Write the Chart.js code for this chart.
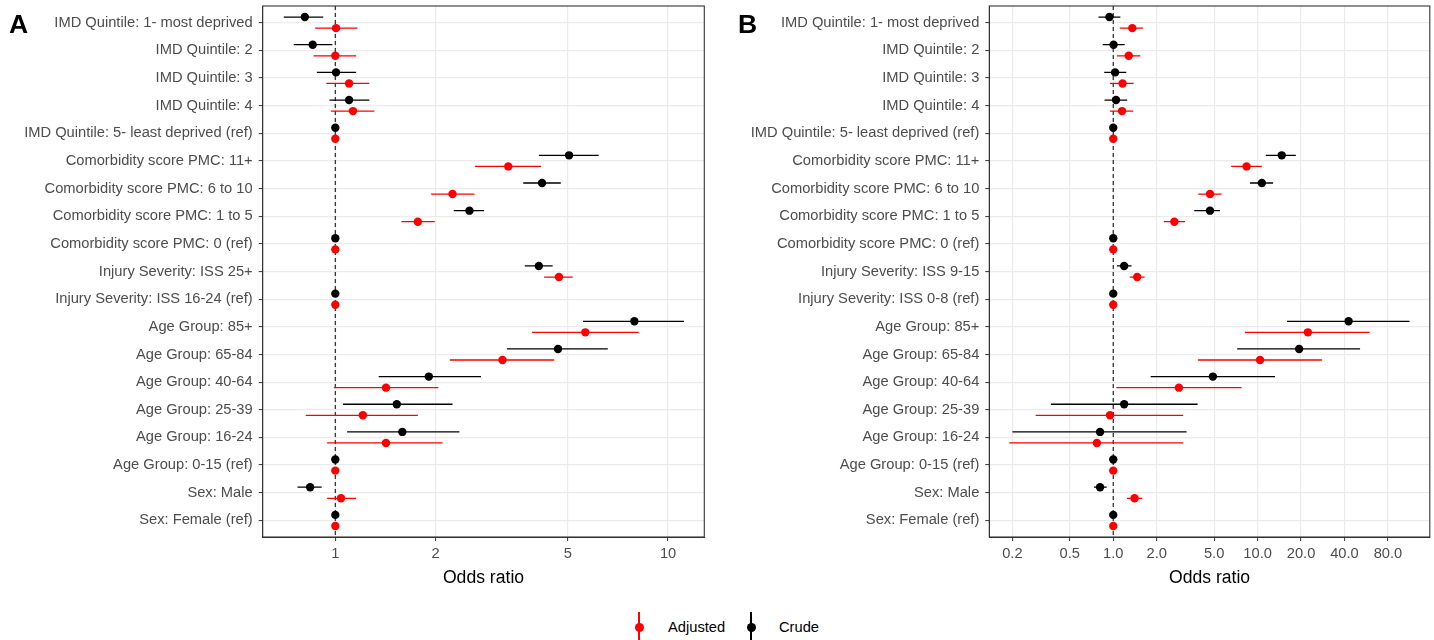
<!DOCTYPE html>
<html>
<head>
<meta charset="utf-8">
<title>Odds ratios</title>
<script src="https://cdn.jsdelivr.net/npm/chart.js@4.4.1/dist/chart.umd.min.js"></script>
<style>
  body { margin: 0; background: #fff; }
  #wrap { position: relative; width: 1434px; height: 640px; background: #fff; font-family: 'Liberation Sans', Arial, sans-serif; overflow: hidden; }
  canvas { position: absolute; top: 0; }
  #chartA { left: 0; }
  #chartB { left: 712px; }
  .tag { position: absolute; top: 10.6px; font-weight: bold; font-size: 26.5px; line-height: 1; color: #000; }
  .key { position: absolute; top: 612px; width: 10px; height: 29px; }
  .key::before { content: ''; position: absolute; left: 4.4px; top: 0; width: 1.3px; height: 29px; background: currentColor; }
  .key::after { content: ''; position: absolute; left: 0.5px; top: 11px; width: 9px; height: 9px; border-radius: 50%; background: currentColor; }
  .keytext { position: absolute; top: 619px; font-size: 14.7px; line-height: 17.6px; color: #000; }
</style>
</head>
<body>
<div id="wrap">
  <canvas id="chartA" width="712" height="600"></canvas>
  <canvas id="chartB" width="722" height="600"></canvas>
  <div class="tag" style="left:9px">A</div>
  <div class="tag" style="left:738px">B</div>
  <div class="key" style="left:634px; color:#ff0000"></div>
  <div class="keytext" style="left:668px">Adjusted</div>
  <div class="key" style="left:746px; color:#000"></div>
  <div class="keytext" style="left:779px">Crude</div>
</div>
<script>
// row labels, top to bottom
const labelsA = [
  'IMD Quintile: 1- most deprived', 'IMD Quintile: 2', 'IMD Quintile: 3', 'IMD Quintile: 4',
  'IMD Quintile: 5- least deprived (ref)', 'Comorbidity score PMC: 11+', 'Comorbidity score PMC: 6 to 10',
  'Comorbidity score PMC: 1 to 5', 'Comorbidity score PMC: 0 (ref)', 'Injury Severity: ISS 25+',
  'Injury Severity: ISS 16-24 (ref)', 'Age Group: 85+', 'Age Group: 65-84', 'Age Group: 40-64',
  'Age Group: 25-39', 'Age Group: 16-24', 'Age Group: 0-15 (ref)', 'Sex: Male', 'Sex: Female (ref)'
];
const labelsB = [
  'IMD Quintile: 1- most deprived', 'IMD Quintile: 2', 'IMD Quintile: 3', 'IMD Quintile: 4',
  'IMD Quintile: 5- least deprived (ref)', 'Comorbidity score PMC: 11+', 'Comorbidity score PMC: 6 to 10',
  'Comorbidity score PMC: 1 to 5', 'Comorbidity score PMC: 0 (ref)', 'Injury Severity: ISS 9-15',
  'Injury Severity: ISS 0-8 (ref)', 'Age Group: 85+', 'Age Group: 65-84', 'Age Group: 40-64',
  'Age Group: 25-39', 'Age Group: 16-24', 'Age Group: 0-15 (ref)', 'Sex: Male', 'Sex: Female (ref)'
];

// panel A
const crudeA   = [0.81, 0.855, 1.005, 1.10, 1, 5.04, 4.18, 2.53, 1, 4.09, 1, 7.92, 4.67, 1.91, 1.53, 1.59, 1, 0.84, 1];
const crudeLoA = [0.70, 0.75, 0.88, 0.96, 1, 4.09, 3.67, 2.27, 1, 3.71, 1, 5.55, 3.28, 1.35, 1.055, 1.085, 1, 0.77, 1];
const crudeHiA = [0.92, 0.98, 1.155, 1.265, 1, 6.19, 4.76, 2.80, 1, 4.50, 1, 11.17, 6.59, 2.74, 2.25, 2.36, 1, 0.91, 1];
const adjA     = [1.005, 1.0, 1.10, 1.13, 1, 3.31, 2.25, 1.77, 1, 4.70, 1, 5.64, 3.18, 1.42, 1.21, 1.42, 1, 1.04, 1];
const adjLoA   = [0.87, 0.86, 0.94, 0.97, 1, 2.63, 1.94, 1.58, 1, 4.24, 1, 3.90, 2.21, 0.99, 0.815, 0.945, 1, 0.945, 1];
const adjHiA   = [1.165, 1.155, 1.265, 1.31, 1, 4.15, 2.62, 1.99, 1, 5.17, 1, 8.16, 4.55, 2.04, 1.77, 2.10, 1, 1.155, 1];

// panel B
const crudeB   = [0.94, 1.005, 1.03, 1.045, 1, 14.7, 10.7, 4.68, 1, 1.19, 1, 42.7, 19.4, 4.90, 1.19, 0.81, 1, 0.81, 1];
const crudeLoB = [0.79, 0.845, 0.865, 0.87, 1, 11.4, 8.85, 3.64, 1, 1.06, 1, 16.0, 7.22, 1.815, 0.37, 0.20, 1, 0.735, 1];
const crudeHiB = [1.12, 1.20, 1.23, 1.25, 1, 18.4, 12.8, 5.48, 1, 1.34, 1, 113, 51.3, 13.2, 3.84, 3.22, 1, 0.90, 1];
const adjB     = [1.355, 1.28, 1.16, 1.15, 1, 8.39, 4.68, 2.65, 1, 1.465, 1, 22.3, 10.4, 2.85, 0.95, 0.77, 1, 1.405, 1];
const adjLoB   = [1.11, 1.06, 0.95, 0.95, 1, 6.56, 3.88, 2.24, 1, 1.30, 1, 8.17, 3.86, 1.05, 0.29, 0.19, 1, 1.245, 1];
const adjHiB   = [1.61, 1.54, 1.385, 1.375, 1, 10.7, 5.63, 3.14, 1, 1.65, 1, 59.7, 27.9, 7.75, 3.05, 3.05, 1, 1.59, 1];

// x axes
const ticksA = [1, 2, 5, 10];
const tickTextA = ['1', '2', '5', '10'];
const rangeA = [0.605, 12.85];
const ticksB = [0.2, 0.5, 1, 2, 5, 10, 20, 40, 80];
const tickTextB = ['0.2', '0.5', '1.0', '2.0', '5.0', '10.0', '20.0', '40.0', '80.0'];
const rangeB = [0.1384, 156];

Chart.defaults.font.family = "'Liberation Sans', Arial, sans-serif";

const DODGE = 0.2;

function pointData(vals, shift) {
    return vals.map((v, i) => ({x: v, y: i + shift}));
}

// segments lo..hi separated by gaps
function barData(lo, hi, shift) {
    const out = [];
    lo.forEach((v, i) => {
        out.push({x: v, y: i + shift}, {x: hi[i], y: i + shift}, {x: null, y: null});
    });
    return out;
}

const panelBorder = {
    id: 'panelBorder',
    afterDraw(chart) {
        const a = chart.chartArea;
        const c = chart.ctx;
        c.save();
        c.strokeStyle = '#333';
        c.lineWidth = 1.1;
        c.strokeRect(a.left, a.top, a.right - a.left, a.bottom - a.top);
        c.restore();
    }
};

function noPad(s) {
    s.paddingTop = 0;
    s.paddingBottom = 0;
    s.paddingLeft = 0;
    s.paddingRight = 0;
}

function makeChart(id, p) {
    const n = p.labels.length;
    return new Chart(document.getElementById(id), {
        type: 'scatter',
        data: {
            datasets: [
                {data: pointData(p.crude, -DODGE), pointRadius: 4.2, backgroundColor: '#000', borderWidth: 0},
                {data: pointData(p.adj, DODGE), pointRadius: 4.2, backgroundColor: '#ff0000', borderWidth: 0},
                {type: 'line', data: barData(p.crudeLo, p.crudeHi, -DODGE), showLine: true, spanGaps: false,
                 borderColor: '#000', borderWidth: 1.3, pointRadius: 0},
                {type: 'line', data: barData(p.adjLo, p.adjHi, DODGE), showLine: true, spanGaps: false,
                 borderColor: '#ff0000', borderWidth: 1.3, pointRadius: 0},
                {type: 'line', data: [{x: 1, y: -0.6}, {x: 1, y: n - 0.4}], showLine: true,
                 borderColor: '#333', borderWidth: 1.3, borderDash: [4, 3], pointRadius: 0}
            ]
        },
        options: {
            responsive: false,
            animation: false,
            events: [],
            layout: {padding: {top: 6, left: 0, right: p.padRight, bottom: 11.4}},
            plugins: {legend: {display: false}, tooltip: {enabled: false}},
            scales: {
                x: {
                    type: 'logarithmic', min: p.range[0], max: p.range[1], bounds: 'data',
                    afterBuildTicks: s => { s.ticks = p.ticks.map(v => ({value: v})); },
                    afterFit: s => { s.height = 51.6; noPad(s); },
                    grid: {color: '#ebebeb', lineWidth: 1.2, tickColor: '#333', tickWidth: 1, tickLength: 4},
                    border: {color: '#333', width: 1},
                    ticks: {autoSkip: false, maxRotation: 0, color: '#4d4d4d', font: {size: 14.7}, padding: 4,
                            callback: (v, i) => p.tickText[i]},
                    title: {display: true, text: 'Odds ratio', color: '#000', font: {size: 17.6}, padding: 0}
                },
                y: {
                    type: 'linear', reverse: true, min: -0.6, max: n - 0.4,
                    afterBuildTicks: s => { s.ticks = p.labels.map((_, i) => ({value: i})); },
                    afterFit: s => { s.width = p.yWidth; noPad(s); },
                    grid: {color: '#ebebeb', lineWidth: 1.2, tickColor: '#333', tickWidth: 1, tickLength: 4},
                    border: {color: '#333', width: 1},
                    ticks: {autoSkip: false, color: '#4d4d4d', font: {size: 14.7}, padding: 6,
                            callback: v => p.labels[v]}
                }
            }
        },
        plugins: [panelBorder]
    });
}

makeChart('chartA', {
    labels: labelsA, crude: crudeA, crudeLo: crudeLoA, crudeHi: crudeHiA,
    adj: adjA, adjLo: adjLoA, adjHi: adjHiA,
    ticks: ticksA, tickText: tickTextA, range: rangeA, yWidth: 262.7, padRight: 7.7
});
makeChart('chartB', {
    labels: labelsB, crude: crudeB, crudeLo: crudeLoB, crudeHi: crudeHiB,
    adj: adjB, adjLo: adjLoB, adjHi: adjHiB,
    ticks: ticksB, tickText: tickTextB, range: rangeB, yWidth: 277.3, padRight: 4
});
</script>
</body>
</html>
